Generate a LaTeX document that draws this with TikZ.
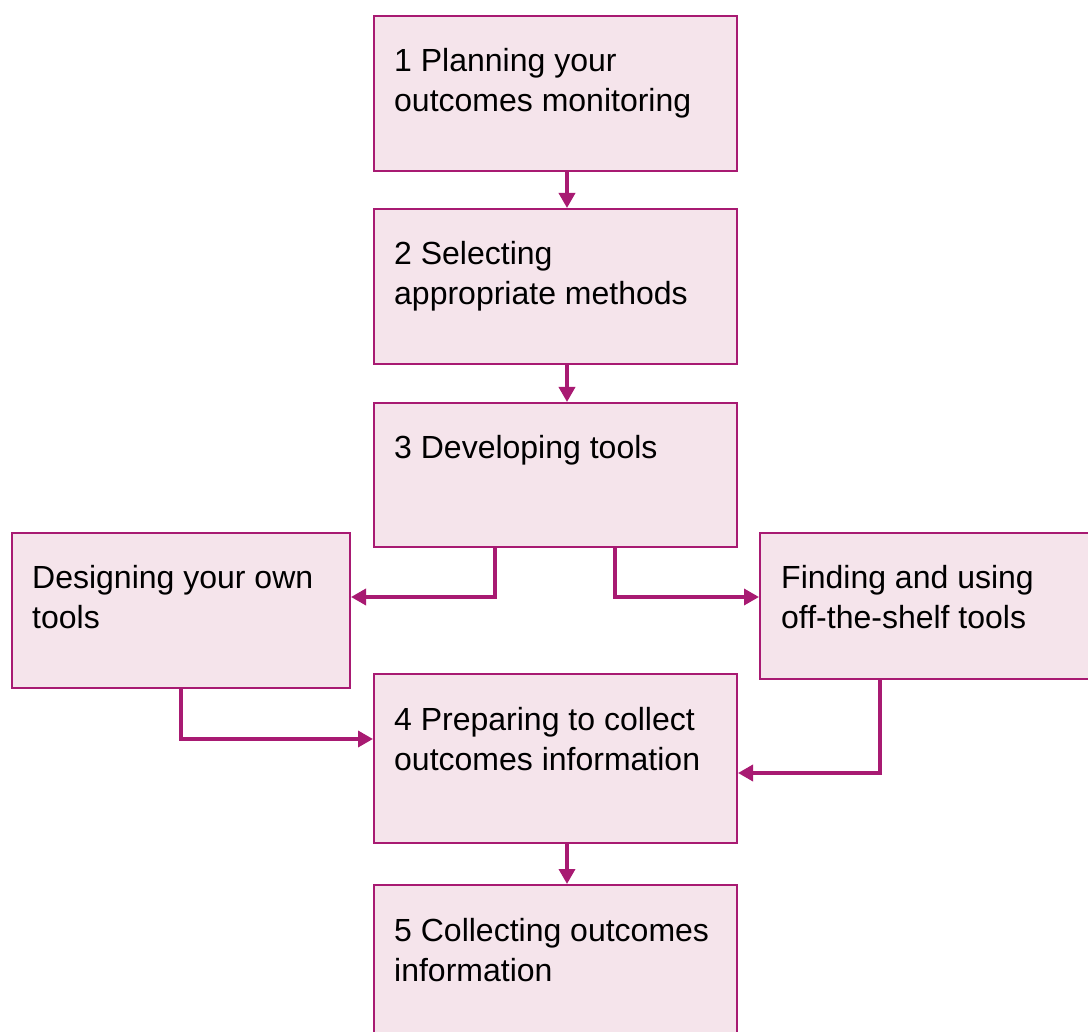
\documentclass[tikz,border=0pt]{standalone}
\usepackage{fontspec}
\setmainfont{Liberation Sans}
\usetikzlibrary{arrows.meta, positioning}

\definecolor{stepline}{RGB}{168,26,114}
\definecolor{stepfill}{RGB}{245,228,235}

\begin{document}
\begin{tikzpicture}[
    x=1pt, y=-1pt,
    >={Triangle[length=15pt, width=16pt]},
    stepbox/.style={rectangle, draw=stepline, fill=stepfill, line width=2pt, inner sep=0pt, minimum width=363pt},
    steptext/.style={anchor=base west, inner sep=0pt, align=left, font=\fontsize{32}{40}\selectfont},
    arrow/.style={->, draw=stepline, line width=3.5pt}
]

\useasboundingbox (0,0) rectangle (1088,1032);
\clip (0,0) rectangle (1088,1032);

% Hauptspalte
\node[stepbox, minimum height=155pt] (b1) at (555.5,93.5) {};
\node[stepbox, minimum height=155pt] (b2) at (555.5,286.5) {};
\node[stepbox, minimum height=144pt] (b3) at (555.5,475) {};
\node[stepbox, minimum height=169pt] (b4) at (555.5,758.5) {};
\node[stepbox, minimum height=160pt] (b5) at (555.5,965) {};

% Seitenkaesten
\node[stepbox, minimum width=338pt, minimum height=155pt] (lft) at (181,610.5) {};
\node[stepbox, minimum width=340pt, minimum height=146pt] (rgt) at (930,606) {};

% Texte (base = letzte Zeile)
\node[steptext] (t1) at ([shift={(21pt,-97pt)}]b1.north west) {1 Planning your\\outcomes monitoring};
\node[steptext] (t2) at ([shift={(21pt,-97pt)}]b2.north west) {2 Selecting\\appropriate methods};
\node[steptext] (t3) at ([shift={(21pt,-57pt)}]b3.north west) {3 Developing tools};
\node[steptext] (t4) at ([shift={(21pt,-97pt)}]b4.north west) {4 Preparing to collect\\outcomes information};
\node[steptext] (t5) at ([shift={(21pt,-97pt)}]b5.north west) {5 Collecting outcomes\\information};
\node[steptext] (tl) at ([shift={(21pt,-96pt)}]lft.north west) {Designing your own\\tools};
\node[steptext] (tr) at ([shift={(22pt,-96pt)}]rgt.north west) {Finding and using\\off-the-shelf tools};

% Verbindungen
\draw[arrow] ([xshift=11.5pt]b1.south) -- ([xshift=11.5pt]b2.north);
\draw[arrow] ([xshift=11.5pt]b2.south) -- ([xshift=11.5pt]b3.north);
\draw[arrow] ([xshift=-60.5pt]b3.south) |- ([yshift=13.5pt]lft.east);
\draw[arrow] ([xshift=59.5pt]b3.south) |- ([yshift=9pt]rgt.west);
\draw[arrow] (lft.south) |- ([yshift=19.5pt]b4.west);
\draw[arrow] ([xshift=121pt]rgt.south west) |- ([yshift=-14.5pt]b4.east);
\draw[arrow] ([xshift=11.5pt]b4.south) -- ([xshift=11.5pt]b5.north);

\end{tikzpicture}
\end{document}
